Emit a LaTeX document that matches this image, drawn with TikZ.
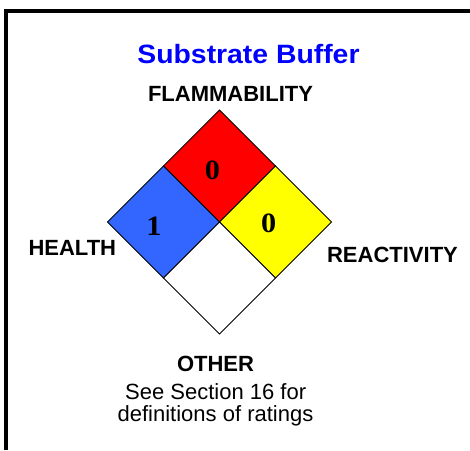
\documentclass[tikz,border=0pt]{standalone}
\usepackage{fontspec}
\setmainfont{Liberation Sans}
\newfontfamily\numfont{Liberation Serif}
\definecolor{hzblue}{RGB}{51,102,255}
\definecolor{hzred}{RGB}{255,0,0}
\definecolor{hzyellow}{RGB}{255,255,0}
\definecolor{titleblue}{RGB}{0,0,255}
\begin{document}
\begin{tikzpicture}[x=1pt,y=-1pt,
  lbl/.style={inner sep=0pt,anchor=base,font=\fontsize{22}{22}\selectfont\bfseries},
  txt/.style={inner sep=0pt,anchor=base,font=\fontsize{22}{22}\selectfont},
  num/.style={inner sep=0pt,anchor=base,font=\fontsize{28}{28}\selectfont\numfont\bfseries},
  cell/.style={draw=black,line width=1pt,line join=miter},
  frame/.style={line width=4pt,draw=black}]
\useasboundingbox (0,0) rectangle (470,450);
\fill[white] (0,0) rectangle (470,450);
% frame
\draw[frame] (6,9) -- (6,450);
\draw[frame] (4,11) -- (470,11);
% diamond corners
\coordinate (T) at (219.5,110);
\coordinate (L) at (107.5,222);
\coordinate (R) at (331.5,222);
\coordinate (B) at (219.5,334);
\coordinate (C) at (219.5,222);
\coordinate (TL) at (163.5,166);
\coordinate (TR) at (275.5,166);
\coordinate (BL) at (163.5,278);
\coordinate (BR) at (275.5,278);
\filldraw[cell,fill=hzred] (T) -- (TR) -- (C) -- (TL) -- cycle;
\filldraw[cell,fill=hzblue] (TL) -- (C) -- (BL) -- (L) -- cycle;
\filldraw[cell,fill=hzyellow] (TR) -- (R) -- (BR) -- (C) -- cycle;
\filldraw[cell,fill=white] (C) -- (BR) -- (B) -- (BL) -- cycle;
% numbers
\node[num] (flam) at (212.5,179) {\scalebox{1.08}[1]{0}};
\node[num] (health) at (154,235) {\scalebox{1.08}[1]{1}};
\node[num] (react) at (268.7,232) {\scalebox{1.08}[1]{0}};
% labels
\node[lbl,text=titleblue,font=\fontsize{26.5}{26.5}\selectfont\bfseries] (title) at (248.5,63.5) {\scalebox{1.07}[1]{Substrate Buffer}};
\node[lbl] (flamlbl) at (230.5,101.7) {FLAMMABILITY};
\node[lbl] (healthlbl) at (72.3,255.7) {HEALTH};
\node[lbl] (reactlbl) at (392.5,262.3) {REACTIVITY};
\node[lbl] (otherlbl) at (215.5,371.7) {OTHER};
\node[txt] (note1) at (215.7,399) {See Section 16 for};
\node[txt] (note2) at (215.5,421.7) {definitions of ratings};
\end{tikzpicture}
\end{document}
